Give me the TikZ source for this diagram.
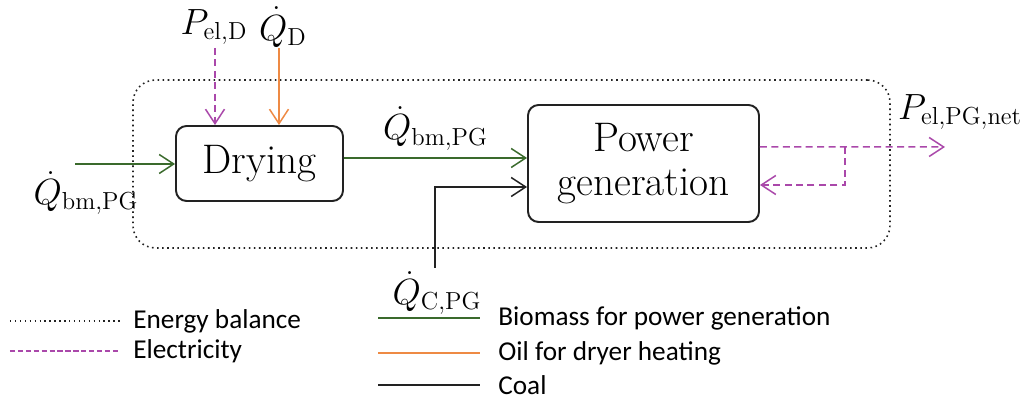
\documentclass[tikz,border=0pt]{standalone}
\usepackage{amsmath}
\usepackage{fontspec}
\newfontfamily\legendfont{Carlito}
\usepackage{xcolor}
\usepackage{tikz}
\usetikzlibrary{arrows.meta,positioning}
\definecolor{ebGreen}{HTML}{3A6A2C}
\definecolor{ebOrange}{HTML}{EE8A44}
\definecolor{ebPurple}{HTML}{AA48AA}
\definecolor{ebInk}{HTML}{222222}
\tikzset{
  eb diagram/.style={line cap=butt, line join=miter},
  eb box/.style={draw=ebInk, fill=white, line width=1.1pt,
    rounded corners=6pt, align=center, inner sep=0pt,
    font=\fontsize{23.5}{25}\selectfont},
  eb border/.style={draw=ebInk, line width=0.9pt, dotted,
    rounded corners=0.45cm},
  eb flow/.style={-{Straight Barb[length=2.9mm,width=3.8mm]}, line width=0.85pt},
  eb biomass/.style={eb flow, draw=ebGreen},
  eb oil/.style={eb flow, draw=ebOrange},
  eb coal/.style={eb flow, draw=ebInk},
  eb power/.style={eb flow, draw=ebPurple, dash pattern=on 4pt off 2.5pt},
  eb label/.style={font=\fontsize{20}{22}\selectfont, inner sep=0pt},
  eb legend/.style={font=\legendfont\fontsize{15.5}{17}\selectfont,
    anchor=west, inner sep=0pt}
}
\begin{document}
\begin{tikzpicture}[eb diagram]
\useasboundingbox (0,0) rectangle (20.48,8);
% energy balance
\node[eb border, minimum width=15.14cm, minimum height=3.36cm] (balance) at (10.23,4.72) {};
% process blocks
\node[eb box, minimum width=3.34cm, minimum height=1.5cm] (dry) at (5.19,4.73) {Drying};
\node[eb box, minimum width=4.62cm, minimum height=2.34cm] (pg) at (12.87,4.73) {Power\\generation};
% inputs of the dryer
\coordinate (bmIn) at (1.5,4.72);
\draw[eb biomass] (bmIn) -- (dry.west |- bmIn);
\node[eb label] (bmInLbl) at (1.72,4.14) {$\dot{Q}_{\mathrm{bm,PG}}$};
\node[eb label] (elDLbl) at (4.28,7.46) {$P_{\mathrm{el,D}}$};
\coordinate (elD) at (4.3,7.04);
\draw[eb power] (elD) -- (elD |- dry.north);
\node[eb label] (qDLbl) at (5.66,7.46) {$\dot{Q}_{\mathrm{D}}$};
\coordinate (qD) at (5.58,7.04);
\draw[eb oil] (qD) -- (qD |- dry.north);
% dried biomass
\draw[eb biomass] ([yshift=1.1mm]dry.east) -- ([yshift=1.1mm]pg.west)
  node[eb label, midway, above=4pt] (bmMidLbl) {$\dot{Q}_{\mathrm{bm,PG}}$};
% coal
\coordinate (coalIn) at (8.7,2.64);
\draw[eb coal] (coalIn) |- ([yshift=-4.7mm]pg.west);
\node[eb label] (coalLbl) at (8.74,2.14) {$\dot{Q}_{\mathrm{C,PG}}$};
% net power and own consumption
\coordinate (netOut) at (18.9,5.06);
\coordinate (split) at (16.9,5.06);
\draw[eb power] ([yshift=3.3mm]pg.east) -- (netOut);
\draw[eb power] (split) |- ([yshift=-4.3mm]pg.east);
\node[eb label] (netLbl) at (19.2,5.76) {$P_{\mathrm{el,PG,net}}$};
% legend
\node[eb legend] (lgBal) at (2.66,1.58) {Energy balance};
\node[eb legend] (lgEl) at (2.66,0.98) {Electricity};
\node[eb legend] (lgBm) at (9.96,1.64) {Biomass for power generation};
\node[eb legend] (lgOil) at (9.96,0.94) {Oil for dryer heating};
\node[eb legend] (lgCoal) at (9.96,0.3) {Coal};
\draw[draw=ebInk, line width=0.8pt, dotted] ([xshift=-2.46cm]lgBal.west) -- ([xshift=-0.26cm]lgBal.west);
\draw[draw=ebPurple, line width=0.8pt, dash pattern=on 3pt off 1.5pt] ([xshift=-2.46cm]lgEl.west) -- ([xshift=-0.26cm]lgEl.west);
\foreach \lg/\col in {lgBm/ebGreen,lgOil/ebOrange,lgCoal/ebInk}
  \draw[draw=\col, line width=1.1pt] ([xshift=-2.4cm]\lg.west) -- ([xshift=-0.36cm]\lg.west);
\end{tikzpicture}
\end{document}
